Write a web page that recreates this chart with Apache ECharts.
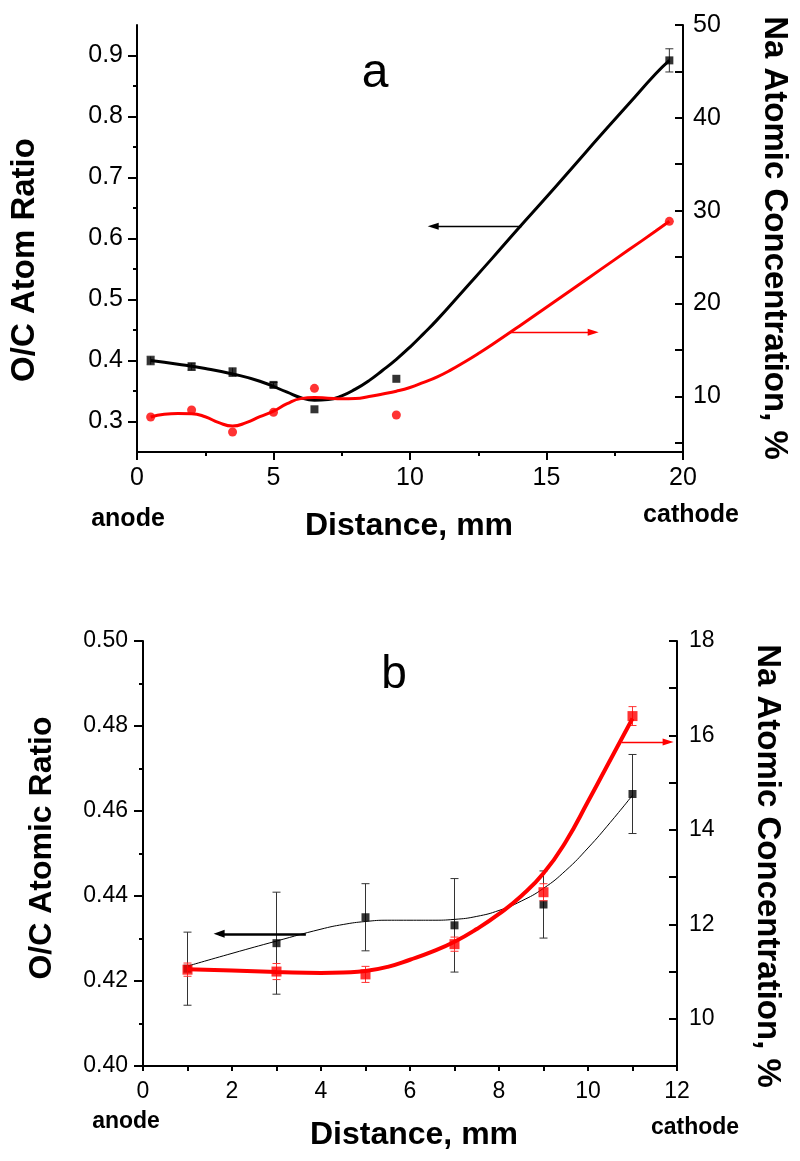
<!DOCTYPE html>
<html>
<head>
<meta charset="utf-8">
<script src="https://cdn.jsdelivr.net/npm/echarts@6/dist/echarts.min.js"></script>
<style>
html,body{margin:0;padding:0;background:#fff;}
#chart{width:800px;height:1161px;}
</style>
</head>
<body>
<div id="chart"></div>
<script>
// ---------- Panel a data ----------
const topX = [0.5, 2, 3.5, 5, 6.5, 9.5, 19.5];
const topOC = [0.400, 0.390, 0.381, 0.360, 0.320, 0.370, 0.892];
const topOCErr = [0.007, 0.006, 0.007, 0.004, 0, 0, 0.019];
const topNa = [7.77, 8.52, 6.15, 8.27, 10.86, 7.98, 28.85];
const topOCFitX = [0.5, 1.5, 2.5, 3.5, 4.5, 5.5, 6, 6.5, 7, 7.5, 8, 8.5, 9, 9.5, 10, 10.5, 11, 12, 13, 14, 15, 16, 17, 18, 19, 19.5];
const topOCFit = [0.400, 0.394, 0.387, 0.378, 0.366, 0.348, 0.339, 0.335, 0.336, 0.342, 0.353, 0.367, 0.384, 0.402, 0.422, 0.444, 0.467, 0.517, 0.567, 0.618, 0.668, 0.719, 0.770, 0.820, 0.870, 0.892];
const topNaFitX = [0.5, 1, 1.5, 2, 2.5, 3, 3.5, 4, 4.5, 5, 5.5, 6, 6.5, 7, 7.5, 8, 8.5, 9, 9.5, 10, 10.5, 11, 11.5, 12, 12.5, 13, 14, 15, 16, 17, 18, 19, 19.5];
const topNaFit = [7.77, 8.06, 8.15, 8.13, 7.80, 7.16, 6.80, 7.16, 7.80, 8.40, 9.20, 9.75, 9.86, 9.80, 9.75, 9.77, 9.97, 10.25, 10.55, 10.95, 11.50, 12.10, 12.85, 13.70, 14.60, 15.55, 17.55, 19.60, 21.65, 23.70, 25.75, 27.80, 28.85];
const topXTicks = [0, 5, 10, 15, 20];
const topOCTicks = [0.3, 0.4, 0.5, 0.6, 0.7, 0.8, 0.9];
const topOCMinor = [0.35, 0.45, 0.55, 0.65, 0.75, 0.85];
const topNaTicks = [10, 20, 30, 40, 50];
const topNaAllTicks = [5, 10, 15, 20, 25, 30, 35, 40, 45, 50];

// ---------- Panel b data ----------
const botX = [1, 3, 5, 7, 9, 11];
const botOC = [0.4229, 0.4289, 0.4350, 0.4331, 0.4380, 0.4640];
const botOCErr = [0.0086, 0.0120, 0.0079, 0.0110, 0.0079, 0.0093];
const botNa = [11.04, 11.00, 10.94, 11.58, 12.68, 16.41];
const botNaErr = [0.14, 0.17, 0.17, 0.15, 0.18, 0.20];
const botOCFitX = [1, 2, 3, 4, 4.5, 5, 5.5, 6, 6.5, 7, 7.5, 8, 8.5, 9, 9.5, 10, 10.5, 11];
const botOCFit = [0.4235, 0.4265, 0.4294, 0.4322, 0.4333, 0.4340, 0.4343, 0.4343, 0.4343, 0.4345, 0.4352, 0.4366, 0.4388, 0.4418, 0.4460, 0.4513, 0.4573, 0.4637];
const botNaFitX = [1, 2, 3, 4, 4.5, 5, 5.5, 6, 6.5, 7, 7.5, 8, 8.5, 9, 9.5, 10, 10.5, 11];
const botNaFit = [11.05, 11.02, 10.99, 10.97, 10.98, 11.01, 11.10, 11.25, 11.42, 11.63, 11.90, 12.22, 12.60, 13.08, 13.75, 14.60, 15.48, 16.36];
const botXTicks = [0, 2, 4, 6, 8, 10, 12];
const botNaTicks = [10, 12, 14, 16, 18];

// arrows (data units): [x0, x1, y]
const arrowTopBlack = [14.09, 10.85, 0.62];
const arrowTopRed = [13.67, 16.71, 16.9];
const arrowBotBlack = [3.66, 1.71, 0.4311];
const arrowBotRed = [10.76, 11.8, 15.86];

const FONT = '"Liberation Sans", Arial, Helvetica, sans-serif';
const RED = '#ff0000';

function zip(a, b) { return a.map((v, i) => [v, b[i]]); }
function errData(xs, ys, es) {
  const out = [];
  xs.forEach((x, i) => { if (es[i] > 0) out.push([x, ys[i] - es[i], ys[i] + es[i]]); });
  return out;
}
function errRender(color, width, cap) {
  return function (params, api) {
    const x = api.value(0);
    const lo = api.coord([x, api.value(1)]);
    const hi = api.coord([x, api.value(2)]);
    const st = { stroke: color, lineWidth: width };
    return {
      type: 'group',
      children: [
        { type: 'line', shape: { x1: lo[0], y1: lo[1], x2: hi[0], y2: hi[1] }, style: st },
        { type: 'line', shape: { x1: lo[0] - cap, y1: lo[1], x2: lo[0] + cap, y2: lo[1] }, style: st },
        { type: 'line', shape: { x1: hi[0] - cap, y1: hi[1], x2: hi[0] + cap, y2: hi[1] }, style: st }
      ]
    };
  };
}
function arrow(a, color, width, size) {
  return {
    silent: true, animation: false,
    symbol: ['none', 'triangle'], symbolSize: size,
    label: { show: false },
    lineStyle: { type: 'solid', color: color, width: width },
    emphasis: { disabled: true },
    data: [[{ coord: [a[0], a[2]] }, { coord: [a[1], a[2]] }]]
  };
}

const axisLineStyle = { show: true, onZero: false, lineStyle: { color: '#000', width: 2 } };
const tickStyle = { color: '#000', width: 2 };

const option = {
  animation: false,
  backgroundColor: '#fff',
  grid: [
    { left: 137, right: 117, top: 25, height: 427 },
    { left: 143, right: 123, top: 641, height: 425 }
  ],
  xAxis: [
    {
      gridIndex: 0, type: 'value', min: 0, max: 20, interval: 5,
      axisLine: axisLineStyle,
      axisTick: { show: true, length: 8, lineStyle: tickStyle },
      minorTick: { show: true, splitNumber: 2, length: 4, lineStyle: tickStyle },
      axisLabel: { customValues: topXTicks, fontSize: 25, color: '#000', fontFamily: FONT, margin: 14 },
      splitLine: { show: false }, minorSplitLine: { show: false }
    },
    {
      gridIndex: 1, type: 'value', min: 0, max: 12, interval: 1,
      axisLine: axisLineStyle,
      axisTick: { show: true, length: 5, lineStyle: tickStyle },
      axisLabel: { customValues: botXTicks, fontSize: 23, color: '#000', fontFamily: FONT, margin: 14 },
      splitLine: { show: false }
    }
  ],
  yAxis: [
    {
      gridIndex: 0, type: 'value', position: 'left', min: 0.25, max: 0.95,
      axisLine: axisLineStyle,
      axisTick: { show: true, length: 9, customValues: topOCTicks, lineStyle: tickStyle },
      axisLabel: { customValues: topOCTicks, formatter: v => v.toFixed(1), fontSize: 25, color: '#000', fontFamily: FONT, margin: 14 },
      splitLine: { show: false }
    },
    {
      gridIndex: 0, type: 'value', position: 'left', min: 0.25, max: 0.95,
      axisLine: { show: false },
      axisTick: { show: true, length: 4, customValues: topOCMinor, lineStyle: tickStyle },
      axisLabel: { show: false },
      splitLine: { show: false }
    },
    {
      gridIndex: 0, type: 'value', position: 'right', min: 4, max: 50,
      axisLine: axisLineStyle,
      axisTick: { show: true, inside: true, length: 8, customValues: topNaAllTicks, lineStyle: tickStyle },
      axisLabel: { customValues: topNaTicks, fontSize: 25, color: '#000', fontFamily: FONT, margin: 10 },
      splitLine: { show: false }
    },
    {
      gridIndex: 1, type: 'value', position: 'left', min: 0.40, max: 0.50, interval: 0.02,
      axisLine: axisLineStyle,
      axisTick: { show: true, length: 9, lineStyle: tickStyle },
      minorTick: { show: true, splitNumber: 2, length: 4, lineStyle: tickStyle },
      axisLabel: { formatter: v => v.toFixed(2), fontSize: 23, color: '#000', fontFamily: FONT, margin: 15 },
      splitLine: { show: false }, minorSplitLine: { show: false }
    },
    {
      gridIndex: 1, type: 'value', position: 'right', min: 9, max: 18, interval: 1,
      axisLine: axisLineStyle,
      axisTick: { show: true, inside: true, length: 8, lineStyle: tickStyle },
      axisLabel: { customValues: botNaTicks, fontSize: 23, color: '#000', fontFamily: FONT, margin: 12 },
      splitLine: { show: false }
    }
  ],
  series: [
    // panel a
    { type: 'custom', xAxisIndex: 0, yAxisIndex: 0, silent: true, z: 2,
      renderItem: errRender('#333', 1, 4), data: errData(topX, topOC, topOCErr) },
    { type: 'line', xAxisIndex: 0, yAxisIndex: 0, smooth: 0.5, showSymbol: false, silent: true, z: 3,
      lineStyle: { color: '#000', width: 3 }, data: zip(topOCFitX, topOCFit),
      markLine: arrow(arrowTopBlack, '#000', 1.3, [7, 11]) },
    { type: 'scatter', xAxisIndex: 0, yAxisIndex: 0, symbol: 'rect', symbolSize: 8, silent: true, z: 4,
      itemStyle: { color: '#000' }, data: zip(topX, topOC) },
    { type: 'line', xAxisIndex: 0, yAxisIndex: 2, smooth: 0.5, showSymbol: false, silent: true, z: 3,
      lineStyle: { color: RED, width: 3 }, data: zip(topNaFitX, topNaFit),
      markLine: arrow(arrowTopRed, RED, 1.3, [7, 11]) },
    { type: 'scatter', xAxisIndex: 0, yAxisIndex: 2, symbol: 'circle', symbolSize: 9, silent: true, z: 4,
      itemStyle: { color: RED }, data: zip(topX, topNa) },
    // panel b
    { type: 'custom', xAxisIndex: 1, yAxisIndex: 3, silent: true, z: 2,
      renderItem: errRender('#333', 1, 4), data: errData(botX, botOC, botOCErr) },
    { type: 'line', xAxisIndex: 1, yAxisIndex: 3, smooth: 0.5, showSymbol: false, silent: true, z: 3,
      lineStyle: { color: '#000', width: 1 }, data: zip(botOCFitX, botOCFit),
      markLine: arrow(arrowBotBlack, '#000', 2.5, [8, 11]) },
    { type: 'scatter', xAxisIndex: 1, yAxisIndex: 3, symbol: 'rect', symbolSize: 8, silent: true, z: 4,
      itemStyle: { color: '#000' }, data: zip(botX, botOC) },
    { type: 'custom', xAxisIndex: 1, yAxisIndex: 4, silent: true, z: 5,
      renderItem: errRender('#ff3030', 1, 4), data: errData(botX, botNa, botNaErr) },
    { type: 'line', xAxisIndex: 1, yAxisIndex: 4, smooth: 0.5, showSymbol: false, silent: true, z: 6,
      lineStyle: { color: RED, width: 4 }, data: zip(botNaFitX, botNaFit),
      markLine: arrow(arrowBotRed, RED, 1.3, [7, 11]) },
    { type: 'scatter', xAxisIndex: 1, yAxisIndex: 4, symbol: 'rect', symbolSize: 10, silent: true, z: 7,
      itemStyle: { color: RED }, data: zip(botX, botNa) }
  ],
  graphic: [
    { type: 'text', x: 375, y: 74, style: { text: 'a', font: '48px ' + FONT, fill: '#000', align: 'center', verticalAlign: 'middle' } },
    { type: 'text', x: 394, y: 675, style: { text: 'b', font: '46px ' + FONT, fill: '#000', align: 'center', verticalAlign: 'middle' } },
    { type: 'text', x: 25, y: 260, rotation: Math.PI / 2, style: { text: 'O/C Atom Ratio', font: 'bold 33px ' + FONT, fill: '#000', align: 'center', verticalAlign: 'middle' } },
    { type: 'text', x: 774, y: 238, rotation: -Math.PI / 2, style: { text: 'Na Atomic Concentration, %', font: 'bold 33px ' + FONT, fill: '#000', align: 'center', verticalAlign: 'middle' } },
    { type: 'text', x: 409, y: 526, style: { text: 'Distance, mm', font: 'bold 32px ' + FONT, fill: '#000', align: 'center', verticalAlign: 'middle' } },
    { type: 'text', x: 128, y: 519, style: { text: 'anode', font: 'bold 25px ' + FONT, fill: '#000', align: 'center', verticalAlign: 'middle' } },
    { type: 'text', x: 691, y: 515, style: { text: 'cathode', font: 'bold 25px ' + FONT, fill: '#000', align: 'center', verticalAlign: 'middle' } },
    { type: 'text', x: 42, y: 848, rotation: Math.PI / 2, style: { text: 'O/C Atomic Ratio', font: 'bold 32px ' + FONT, fill: '#000', align: 'center', verticalAlign: 'middle' } },
    { type: 'text', x: 767, y: 866, rotation: -Math.PI / 2, style: { text: 'Na Atomic Concentration, %', font: 'bold 33px ' + FONT, fill: '#000', align: 'center', verticalAlign: 'middle' } },
    { type: 'text', x: 414, y: 1135, style: { text: 'Distance, mm', font: 'bold 32px ' + FONT, fill: '#000', align: 'center', verticalAlign: 'middle' } },
    { type: 'text', x: 126, y: 1122, style: { text: 'anode', font: 'bold 23px ' + FONT, fill: '#000', align: 'center', verticalAlign: 'middle' } },
    { type: 'text', x: 695, y: 1128, style: { text: 'cathode', font: 'bold 23px ' + FONT, fill: '#000', align: 'center', verticalAlign: 'middle' } }
  ]
};

const chart = echarts.init(document.getElementById('chart'), null, { renderer: 'canvas' });
chart.setOption(option);
</script>
</body>
</html>
